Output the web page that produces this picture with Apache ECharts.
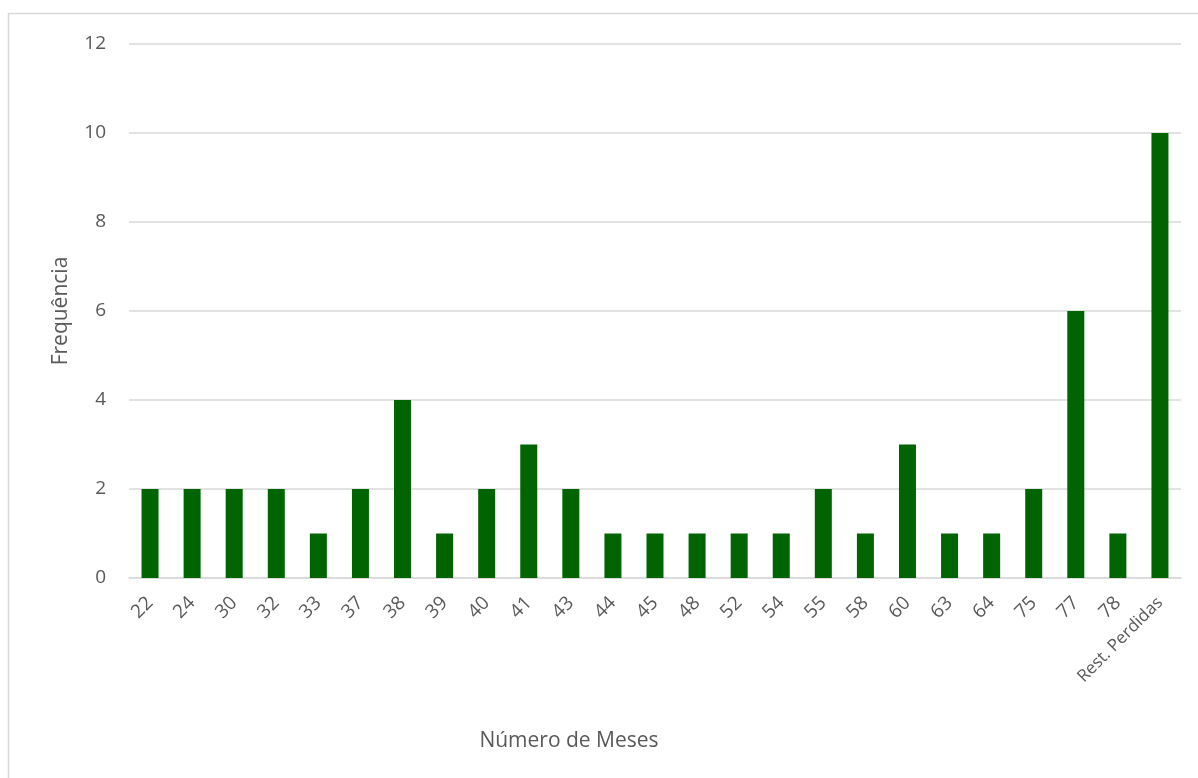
<!DOCTYPE html>
<html>
<head>
<meta charset="utf-8">
<style>
  html, body { margin: 0; padding: 0; background: #ffffff; }
  #chart { width: 1198px; height: 778px; }
</style>
<script src="https://cdn.jsdelivr.net/npm/echarts@6/dist/echarts.min.js"></script>
</head>
<body>
<div id="chart"></div>
<script>
// Meses por categoria e respetiva frequência
const categories = ['22', '24', '30', '32', '33', '37', '38', '39', '40', '41', '43', '44', '45',
  '48', '52', '54', '55', '58', '60', '63', '64', '75', '77', '78', 'Rest. Perdidas'];
const frequencia = [2, 2, 2, 2, 1, 2, 4, 1, 2, 3, 2, 1, 1, 1, 1, 1, 2, 1, 3, 1, 1, 2, 6, 1, 10];
const yTicks = { min: 0, max: 12, interval: 2 };

const FONT = '"Open Sans", "Noto Sans", sans-serif';
const TEXT = '#595959';

const chart = echarts.init(document.getElementById('chart'), null, { renderer: 'canvas' });
chart.setOption({
  animation: false,
  backgroundColor: '#ffffff',
  graphic: [{
    type: 'rect',
    shape: { x: 8.5, y: 13.5, width: 1300, height: 900 },
    style: { fill: 'none', stroke: '#d9d9d9', lineWidth: 1.5 },
    silent: true
  }],
  grid: { left: 129, right: 17, top: 44, bottom: 200 },
  xAxis: {
    type: 'category',
    data: categories,
    name: 'Número de Meses',
    nameLocation: 'middle',
    nameGap: 153,
    // right padding moves the centred title leftwards
    nameTextStyle: { color: TEXT, fontSize: 21, fontFamily: FONT, padding: [0, 172, 0, 0] },
    axisLine: { lineStyle: { color: '#d9d9d9', width: 1.5 } },
    axisTick: { show: false },
    axisLabel: {
      rotate: 45, interval: 0, color: TEXT, fontSize: 19, fontFamily: FONT, margin: 22,
      // the long category label uses a slightly smaller size so it stays compact
      formatter: (v) => (v.length > 3 ? '{long|' + v + '}' : v),
      rich: { long: { fontSize: 17, color: TEXT, fontFamily: FONT } }
    }
  },
  yAxis: {
    type: 'value',
    min: yTicks.min,
    max: yTicks.max,
    interval: yTicks.interval,
    name: 'Frequência',
    nameLocation: 'middle',
    nameGap: 57,
    nameRotate: 90,
    nameTextStyle: { color: TEXT, fontSize: 21, fontFamily: FONT },
    axisLine: { show: false },
    axisTick: { show: false },
    axisLabel: { color: TEXT, fontSize: 19, fontFamily: FONT, margin: 23 },
    splitLine: { lineStyle: { color: '#d9d9d9', width: 1.5 } }
  },
  series: [{
    type: 'bar',
    data: frequencia,
    barWidth: 17,
    itemStyle: { color: '#006400' }
  }]
});
</script>
</body>
</html>
